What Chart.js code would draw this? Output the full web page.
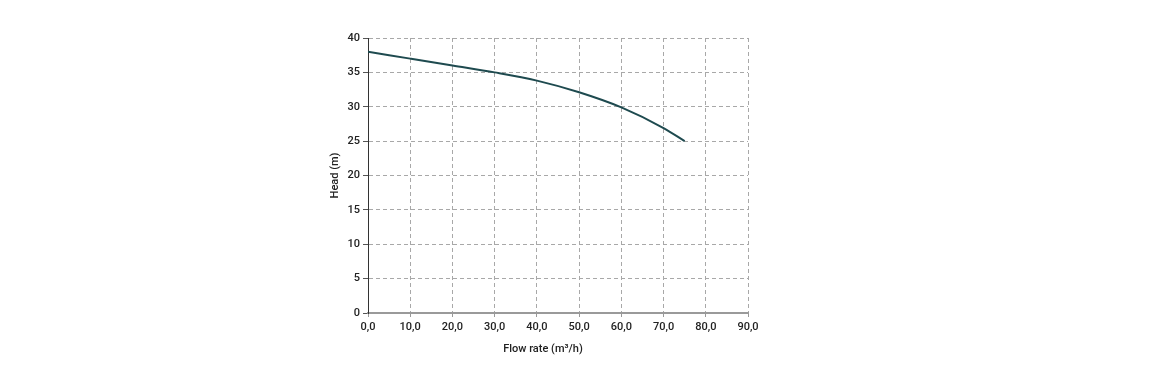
<!DOCTYPE html>
<html><head><meta charset="utf-8">
<script src="https://cdn.jsdelivr.net/npm/chart.js@4"></script>
<style>html,body{margin:0;padding:0;background:#fff;}#wrap{width:1170px;height:380px;}</style>
</head><body><div id="wrap"><canvas id="c" width="1170" height="380"></canvas></div>
<script>
const flowRate = [0, 10, 20, 30, 40, 50, 60, 70, 75];
const head = [38, 37, 36, 35, 33.8, 32.1, 29.9, 26.9, 25];
const xTicks = [0, 10, 20, 30, 40, 50, 60, 70, 80, 90];
const yTicks = [0, 5, 10, 15, 20, 25, 30, 35, 40];
const xTitle = 'Flow rate (m³/h)';
const yTitle = 'Head (m)';

const points = flowRate.map((x, i) => ({x: x, y: head[i]}));
const font = {family: 'Roboto', size: 11, weight: '500'};

new Chart(document.getElementById('c'), {
  type: 'scatter',
  data: {datasets: [{
    data: points, showLine: true, borderColor: '#1e4a4f', borderWidth: 2,
    pointRadius: 0, cubicInterpolationMode: 'monotone', fill: false
  }]},
  options: {
    responsive: false, animation: false, devicePixelRatio: 1,
    layout: {padding: {left: 320, right: 422, top: 38, bottom: 17}},
    plugins: {legend: {display: false}, tooltip: {enabled: false}},
    scales: {
      x: {
        type: 'linear', min: 0, max: 90,
        afterBuildTicks: s => { s.ticks = xTicks.map(v => ({value: v})); },
        afterFit: s => { s.height = 50; },
        ticks: {color: '#222', font: font, padding: 4, maxRotation: 0,
          callback: v => v.toFixed(1).replace('.', ',')},
        grid: {color: '#a8a8a8', lineWidth: 1, tickLength: 4, tickColor: '#999'},
        border: {color: '#9a9a9a', width: 2, dash: [4, 3]},
        title: {display: true, text: xTitle + '\u00a0'.repeat(11), color: '#222', font: font, padding: {top: 0, bottom: 7}}
      },
      y: {
        type: 'linear', min: 0, max: 40,
        afterBuildTicks: s => { s.ticks = yTicks.map(v => ({value: v})); },
        afterFit: s => { s.width = 48; },
        ticks: {color: '#222', font: font, padding: 3},
        grid: {color: '#a8a8a8', lineWidth: 1, tickLength: 5, tickColor: '#555'},
        border: {color: '#333', width: 1, dash: [4, 3]},
        title: {display: true, text: yTitle, color: '#222', font: font, padding: {top: 9, bottom: 0}}
      }
    }
  }
});
</script></body></html>
